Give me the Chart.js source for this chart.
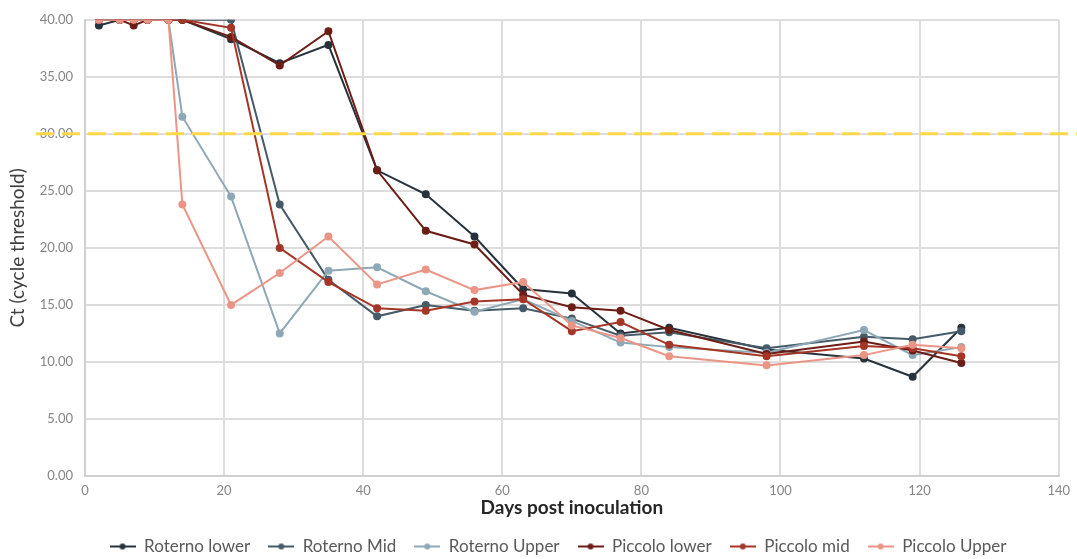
<!DOCTYPE html>
<html>
<head>
<meta charset="utf-8">
<script src="https://cdn.jsdelivr.net/npm/chart.js@4.4.0/dist/chart.umd.min.js"></script>
<style>
  html, body { margin: 0; padding: 0; background: #fff; }
</style>
</head>
<body>
<canvas id="chart" width="1077" height="559"></canvas>
<script>
// sampling days (days post inoculation)
const days = [2, 5, 7, 9, 12, 14, 21, 28, 35, 42, 49, 56, 63, 70, 77, 84, 98, 112, 119, 126]

// Ct values
const roternoLower = [39.5, 40, 40, 40, 40, 40, 38.3, 36.2, 37.8, 26.8, 24.7, 21.0, 16.4, 16.0, 12.5, 13.0, 11.1, 10.3, 8.7, 13.0]
const roternoMid = [40, 40, 40, 40, 40, 40, 40, 23.8, 17.2, 14.0, 15.0, 14.5, 14.7, 13.8, 12.3, 12.6, 11.2, 12.2, 12.0, 12.7]
const roternoUpper = [40, 40, 40, 40, 40, 31.5, 24.5, 12.5, 18.0, 18.3, 16.2, 14.4, 15.5, 13.6, 11.7, 11.3, 10.8, 12.8, 10.6, 11.3]
const piccoloLower = [40, 40, 39.5, 40, 40, 40, 38.5, 36.0, 39.0, 26.8, 21.5, 20.3, 15.9, 14.8, 14.5, 12.8, 10.7, 11.8, 11.0, 9.9]
const piccoloMid = [40, 40, 40, 40, 40, 40, 39.3, 20.0, 17.0, 14.7, 14.5, 15.3, 15.5, 12.7, 13.5, 11.5, 10.5, 11.4, 11.2, 10.5]
const piccoloUpper = [40, 40, 40, 40, 40, 23.8, 15.0, 17.8, 21.0, 16.8, 18.1, 16.3, 17.0, 13.2, 12.1, 10.5, 9.7, 10.6, 11.5, 11.2]

const seriesNames = ["Roterno lower", "Roterno Mid", "Roterno Upper", "Piccolo lower", "Piccolo mid", "Piccolo Upper"]
const seriesValues = [roternoLower, roternoMid, roternoUpper, piccoloLower, piccoloMid, piccoloUpper]
const seriesColors = ["#27323b", "#465b68", "#8ea8b6", "#6b1d16", "#a53627", "#eb9587"]

const yTicks = [0, 5, 10, 15, 20, 25, 30, 35, 40]
const xTicks = [0, 20, 40, 60, 80, 100, 120, 140]
const threshold = 30

const fontFamily = "Lato, 'Liberation Sans', sans-serif"

// little line-with-dot picture for the legend
legend_marker = color => {
   const c = document.createElement("canvas")
   c.width = 26
   c.height = 10
   const g = c.getContext("2d")
   g.strokeStyle = color
   g.lineWidth = 2
   g.beginPath()
   g.moveTo(0, 5)
   g.lineTo(26, 5)
   g.stroke()
   g.fillStyle = color
   g.beginPath()
   g.arc(13, 5, 3, 0, Math.PI * 2)
   g.fill()
   return c
}
const markers = seriesColors.map(legend_marker)

const thresholdLine = {
   id: "thresholdLine",
   afterDraw(chart) {
      const y = chart.scales.y.getPixelForValue(threshold)
      const ctx = chart.ctx
      ctx.save()
      ctx.strokeStyle = "#ffd84a"
      ctx.lineWidth = 3
      ctx.setLineDash([18, 8])
      ctx.beginPath()
      ctx.moveTo(36, y)
      ctx.lineTo(chart.width, y)
      ctx.stroke()
      ctx.restore()
   },
}

// the legend in the original sits a bit right of centre
const legendShift = {
   id: "legendShift",
   afterLayout(chart) {
      chart.legend.left += 25
      chart.legend.right += 25
   },
}

const datasets = seriesNames.map((name, i) => ({
   label: name,
   data: days.map((d, j) => ({ x: d, y: seriesValues[i][j] })),
   borderColor: seriesColors[i],
   backgroundColor: seriesColors[i],
   borderWidth: 2,
   pointRadius: 3,
   pointHoverRadius: 3,
   tension: 0,
   // later series sit on top, like the original
   order: seriesNames.length - i,
}))

const ctx = document.getElementById("chart").getContext("2d")
const chart = new Chart(ctx, {
   type: "line",
   data: { datasets },
   options: {
      responsive: false,
      animation: false,
      devicePixelRatio: 1,
      layout: { padding: { left: 6, right: 17, top: 16, bottom: -6 } },
      plugins: {
         tooltip: { enabled: false },
         legend: {
            position: "bottom",
            labels: {
               usePointStyle: true,
               pointStyleWidth: 26,
               padding: 18,
               color: "#595959",
               font: { family: fontFamily, size: 17 },
               generateLabels: ch =>
                  ch.data.datasets.map((ds, i) => ({
                     text: ds.label,
                     pointStyle: markers[i],
                     fillStyle: ds.borderColor,
                     strokeStyle: ds.borderColor,
                     fontColor: "#595959",
                     lineWidth: 0,
                     hidden: false,
                     datasetIndex: i,
                  })),
            },
         },
      },
      scales: {
         x: {
            type: "linear",
            min: 0,
            max: 140,
            afterBuildTicks: scale => {
               scale.ticks = xTicks.map(v => ({ value: v }))
            },
            afterFit: scale => {
               scale.height = 44
            },
            grid: { color: "#dddddd", lineWidth: 2, drawTicks: false },
            border: { color: "#d0d0d0", width: 2 },
            ticks: {
               color: "#858585",
               padding: 7,
               font: { family: fontFamily, size: 13 },
            },
            title: {
               display: true,
               text: "Days post inoculation",
               color: "#262626",
               padding: { top: 0, bottom: 1 },
               font: { family: fontFamily, size: 19, weight: "bold" },
            },
         },
         y: {
            min: 0,
            max: 40,
            afterBuildTicks: scale => {
               scale.ticks = yTicks.map(v => ({ value: v }))
            },
            afterFit: scale => {
               scale.width = 79
            },
            grid: { color: "#dddddd", lineWidth: 2, drawTicks: false },
            border: { color: "#d0d0d0", width: 2 },
            ticks: {
               color: "#858585",
               padding: 12,
               font: { family: fontFamily, size: 13 },
               callback: v => v.toFixed(2),
            },
            title: {
               display: true,
               text: "Ct (cycle threshold)",
               color: "#404040",
               padding: { top: 0, bottom: 0 },
               font: { family: fontFamily, size: 19 },
            },
         },
      },
   },
   plugins: [thresholdLine, legendShift],
})
</script>
</body>
</html>
